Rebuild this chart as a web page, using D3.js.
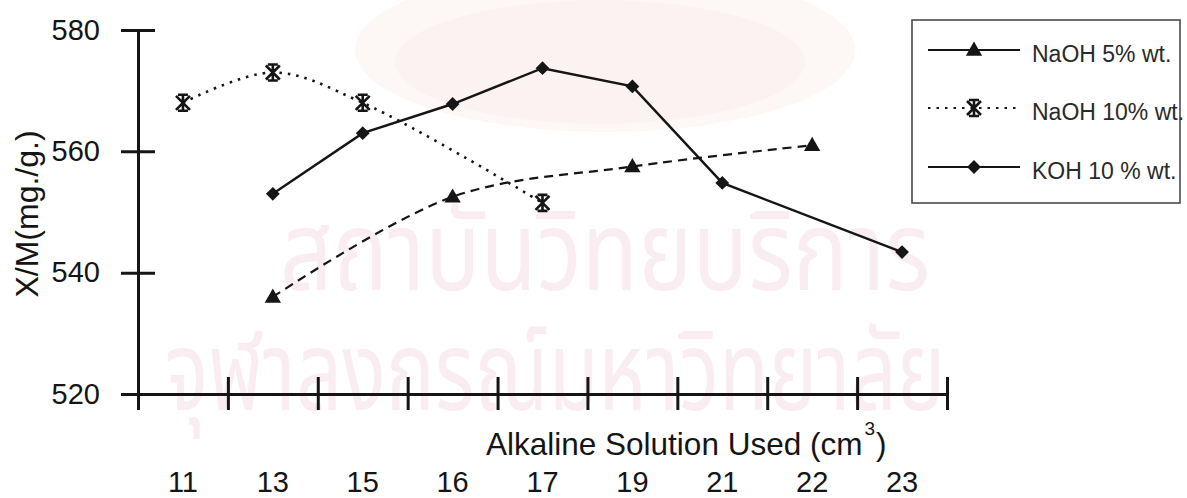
<!DOCTYPE html>
<html>
<head>
<meta charset="utf-8">
<script src="https://cdn.jsdelivr.net/npm/d3@7/dist/d3.min.js"></script>
<style>
  body { margin: 0; background: #fff; }
  svg { display: block; font-family: Arial, "Liberation Sans", sans-serif; }
</style>
</head>
<body>
<div id="chart"></div>
<script>
// x categories (cm3 of alkaline solution) and y ticks
const categories = ["11", "13", "15", "16", "17", "19", "21", "22", "23"];
const yTicks = [520, 540, 560, 580];

// NaOH 5% wt.
const naoh5X = ["13", "16", "19", "22"];
const naoh5Y = [536, 552.5, 557.5, 561];

// NaOH 10% wt.
const naoh10X = ["11", "13", "15", "17"];
const naoh10Y = [568, 573, 568, 551.5];

// KOH 10 % wt.
const kohX = ["13", "15", "16", "17", "19", "21", "23"];
const kohY = [553, 563, 567.8, 573.7, 570.7, 554.8, 543.4];

const legendLabels = ["NaOH 5% wt.", "NaOH 10% wt.", "KOH 10 % wt."];

const W = 1187, H = 498;
const ink = "#151515";

const svg = d3.select("#chart").append("svg").attr("width", W).attr("height", H);

// faint library watermark behind everything
const wm = svg.append("g").attr("class", "watermark");
wm.append("ellipse").attr("cx", 605).attr("cy", 50).attr("rx", 250).attr("ry", 82)
  .attr("fill", "#fdf8f6");
wm.append("ellipse").attr("cx", 600).attr("cy", 62).attr("rx", 205).attr("ry", 62)
  .attr("fill", "#fcf2f2");
wm.append("text").attr("x", 280).attr("y", 290)
  .attr("textLength", 650).attr("lengthAdjust", "spacingAndGlyphs")
  .attr("font-family", "'Noto Sans Thai', 'Noto Sans', Loma, Garuda, sans-serif")
  .attr("font-size", 110).attr("fill", "#faedf2")
  .text("สถาบันวิทยบริการ");
wm.append("text").attr("x", 165).attr("y", 410)
  .attr("textLength", 780).attr("lengthAdjust", "spacingAndGlyphs")
  .attr("font-family", "'Noto Sans Thai', 'Noto Sans', Loma, Garuda, sans-serif")
  .attr("font-size", 110).attr("fill", "#faedf2")
  .text("จุฬาลงกรณ์มหาวิทยาลัย");

const x = d3.scaleBand().domain(categories).range([138, 947]).padding(0);
const y = d3.scaleLinear().domain([520, 580]).range([394, 30]);
const cx = (c) => x(c) + x.bandwidth() / 2;

// y axis, ticks crossing the line
const gy = svg.append("g").attr("transform", `translate(${x.range()[0]},0)`)
  .call(d3.axisLeft(y).tickValues(yTicks).tickSizeInner(17).tickSizeOuter(0).tickPadding(21));
gy.select(".domain").attr("stroke", ink).attr("stroke-width", 3);
gy.selectAll(".tick line").attr("x1", 17).attr("stroke", ink).attr("stroke-width", 3);
gy.selectAll(".tick text").attr("font-size", 29).attr("fill", ink).attr("font-family", "Arial, 'Liberation Sans', sans-serif");

// x axis: tick marks at category boundaries
const xEdge = d3.scaleLinear().domain([0, categories.length]).range(x.range());
const gx = svg.append("g").attr("transform", `translate(0,${y(520)})`)
  .call(d3.axisBottom(xEdge).tickValues(d3.range(0, categories.length + 1)).tickFormat("").tickSizeInner(16).tickSizeOuter(0));
gx.select(".domain").attr("stroke", ink).attr("stroke-width", 3);
gx.selectAll(".tick line").attr("y1", -17).attr("stroke", ink).attr("stroke-width", 3);

// category labels sit below the axis title
const gl = svg.append("g").attr("transform", `translate(0,${y(520)})`)
  .call(d3.axisBottom(x).tickSize(0).tickPadding(77));
gl.select(".domain").remove();
gl.selectAll(".tick text").attr("font-size", 29).attr("fill", ink).attr("font-family", "Arial, 'Liberation Sans', sans-serif");

// axis titles
const xt = svg.append("text").attr("x", 486).attr("y", 455)
  .attr("font-size", 31.5).attr("fill", ink);
xt.append("tspan").text("Alkaline Solution Used (cm");
xt.append("tspan").attr("font-size", 19).attr("dy", -20).attr("dx", 2).text("3");
xt.append("tspan").attr("dy", 20).attr("dx", 1).text(")");

svg.append("text").attr("transform", "translate(38,214) rotate(-90)")
  .attr("text-anchor", "middle").attr("font-size", 32).attr("fill", ink)
  .text("X/M(mg./g.)");

// markers
const triangle = d3.symbol().type(d3.symbolTriangle).size(115);
const diamond = d3.symbol().type(d3.symbolSquare).size(95);
const asterisk = "M-7,-7L7,7M-7,7L7,-7M0,-8L0,8M-5,-8L5,-8M-5,8L5,8";

function drawSeries(xs, ys, opts) {
  const pts = xs.map((c, i) => [cx(c), y(ys[i])]);
  const line = d3.line().curve(opts.curve);
  svg.append("path").attr("d", line(pts)).attr("fill", "none")
    .attr("stroke", ink).attr("stroke-width", opts.width)
    .attr("stroke-dasharray", opts.dash);
  const g = svg.append("g");
  pts.forEach((p) => opts.marker(g, p[0], p[1]));
}

const markTriangle = (g, px, py) => g.append("path").attr("d", triangle())
  .attr("transform", `translate(${px},${py + 1})`).attr("fill", ink);
const markDiamond = (g, px, py) => g.append("path").attr("d", diamond())
  .attr("transform", `translate(${px},${py}) rotate(45)`).attr("fill", ink);
const markAsterisk = (g, px, py) => g.append("path").attr("d", asterisk)
  .attr("transform", `translate(${px},${py})`).attr("fill", "none")
  .attr("stroke", ink).attr("stroke-width", 2.6);

drawSeries(naoh5X, naoh5Y, { curve: d3.curveCatmullRom, width: 2.2, dash: "9,6", marker: markTriangle });
drawSeries(naoh10X, naoh10Y, { curve: d3.curveCatmullRom, width: 2.6, dash: "2.5,6", marker: markAsterisk });
drawSeries(kohX, kohY, { curve: d3.curveLinear, width: 2.4, dash: null, marker: markDiamond });

// legend
const lg = svg.append("g");
lg.append("rect").attr("x", 912).attr("y", 20).attr("width", 268).attr("height", 183)
  .attr("fill", "#fff").attr("stroke", "#4a4a4a").attr("stroke-width", 1.6);
const legendRows = [
  { dash: null, marker: markTriangle },
  { dash: "2.5,6", marker: markAsterisk },
  { dash: null, marker: markDiamond }
];
legendRows.forEach((r, i) => {
  const ry = [50, 108, 167][i];
  lg.append("line").attr("x1", 928).attr("x2", 1020).attr("y1", ry).attr("y2", ry)
    .attr("stroke", ink).attr("stroke-width", 2).attr("stroke-dasharray", r.dash);
  r.marker(lg, 974, ry);
  lg.append("text").attr("x", 1032).attr("y", ry + 12).attr("font-size", 23)
    .attr("fill", "#2a2a2a").text(legendLabels[i]);
});
</script>
</body>
</html>
